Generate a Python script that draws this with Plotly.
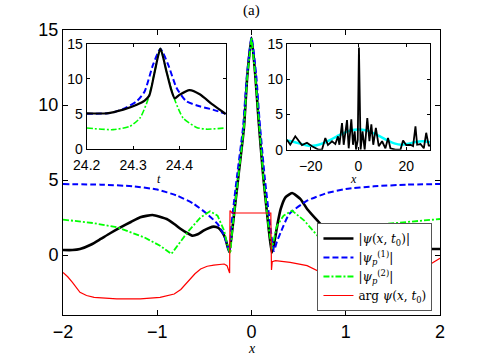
import plotly.graph_objects as go

# ---------------- main panel data ----------------
black_x = [-2.0, -1.9, -1.82, -1.7, -1.6, -1.5, -1.39, -1.28, -1.18, -1.05, -0.9, -0.82, -0.75, -0.68, -0.63, -0.57, -0.51, -0.45,
           -0.4, -0.35, -0.31, -0.28, -0.26, -0.235, -0.2, -0.14, -0.08, -0.045, 0.0, 0.04, 0.075, 0.125, 0.18, 0.215,
           0.235, 0.255, 0.28, 0.31, 0.36, 0.43, 0.52, 0.59, 0.7, 0.8, 0.91, 1.1, 1.3, 1.5, 1.7, 1.85, 2.0]
black_y = [0.33, 0.33, 0.4, 0.7, 1.07, 1.45, 1.84, 2.2, 2.51, 2.67, 2.4, 2.07, 1.73, 1.45, 1.29, 1.38, 1.62, 1.8,
           1.89, 1.8, 1.51, 1.15, 0.7, 0.2, 1.9, 5.2, 8.5, 11.9, 14.5, 12.0, 9.0, 5.2, 1.9, 0.15,
           0.6, 1.29, 2.2, 3.07, 3.84, 4.13, 3.73, 3.07, 2.29, 1.62, 1.18, 0.8, 0.6, 0.5, 0.45, 0.4, 0.4]

blue_x = [-2.0, -1.6, -1.25, -1.0, -0.79, -0.61, -0.47, -0.36, -0.29, -0.25, -0.232, -0.215, -0.155, -0.09, -0.05, 0.0,
          0.05, 0.085, 0.14, 0.2, 0.237, 0.27, 0.31, 0.4, 0.59, 0.8, 1.0, 1.3, 1.65, 2.0]
blue_y = [4.73, 4.69, 4.58, 4.36, 3.96, 3.4, 2.73, 2.07, 1.29, 0.5, 0.2, 1.87, 5.2, 8.5, 11.9, 14.5,
          12.0, 9.0, 5.2, 1.9, 0.27, 0.9, 1.51, 2.73, 3.62, 4.13, 4.4, 4.58, 4.69, 4.73]

green_x = [-2.0, -1.68, -1.42, -1.14, -0.97, -0.85, -0.68, -0.54, -0.44, -0.36, -0.29, -0.25, -0.225, -0.2, -0.14,
           -0.08, -0.045, 0.0, 0.04, 0.075, 0.125, 0.18, 0.215, 0.27, 0.34, 0.43, 0.56, 0.7, 0.8, 0.87, 0.95, 1.02,
           1.3, 1.65, 2.0]
green_y = [2.36, 2.13, 1.84, 1.18, 0.62, 0.07, 1.51, 2.51, 2.91, 2.62, 1.62, 0.51, 0.1, 1.9, 5.2,
           8.5, 11.9, 14.5, 12.0, 9.0, 5.2, 1.9, 0.4, 1.95, 2.62, 2.96, 2.29, 1.29, 0.4, 0.07, 1.2, 1.75,
           2.0, 2.2, 2.4]

red_x = [-2.0, -1.95, -1.9, -1.82, -1.75, -1.67, -1.43, -1.18, -0.97, -0.82, -0.75, -0.68, -0.6, -0.54, -0.47, -0.4, -0.29,
         -0.26, -0.24, -0.232, -0.228, -0.205, 0.0, 0.195, 0.205, 0.212, 0.22, 0.255, 0.41, 0.59, 0.77, 0.91,
         1.1, 1.3, 1.5, 1.7, 1.9, 2.0]
red_y = [-1.16, -1.45, -1.82, -2.49, -2.7, -2.82, -2.93, -2.93, -2.82, -2.6, -2.3, -1.82, -1.25, -0.93, -0.75, -0.67, -0.6,
         -0.71, -1.16, -1.2, 2.96, 2.8, 2.8, 2.8, 2.8, -1.0, -0.45, -0.38, -0.49, -0.71, -1.27, -1.82,
         -2.4, -2.6, -2.3, -1.5, -0.6, -0.22]

# ---------------- inset 1 (time) ----------------
in1_black_t = [24.2, 24.243, 24.279, 24.308, 24.325, 24.335, 24.347, 24.359, 24.372, 24.383, 24.390, 24.40, 24.422,
               24.444, 24.472, 24.5]
in1_black_y = [5.07, 5.07, 5.6, 6.3, 6.9, 7.6, 11.1, 14.33, 11.1, 8.3, 7.2, 7.7, 8.4, 7.8, 6.3, 4.97]
in1_blue_t = [24.2, 24.25, 24.279, 24.308, 24.325, 24.343, 24.359, 24.376, 24.394, 24.415, 24.444, 24.472, 24.5]
in1_blue_y = [5.0, 5.1, 5.7, 6.8, 8.2, 12.0, 14.3, 12.0, 8.7, 6.8, 6.07, 5.6, 5.0]
in1_green_t = [24.2, 24.257, 24.293, 24.315, 24.332, 24.347, 24.359, 24.372, 24.390, 24.408, 24.437, 24.458, 24.5]
in1_green_y = [2.97, 2.73, 3.2, 4.4, 7.0, 11.1, 14.3, 11.1, 7.0, 4.4, 3.05, 2.8, 2.97]

# ---------------- inset 2 (space, wide) ----------------
in2_black_x = [-30.0, -28.6, -26.5, -25.1, -23.7, -21.6, -19.5, -16.7, -15.3, -13.9, -12.8, -11.1, -9.7, -8.6, -8.0,
               -6.9, -6.2, -4.8, -4.1, -3.0, -2.3, -1.6, -1.0, -0.3, 0.2, 0.9, 1.7, 2.6, 3.7, 4.6, 5.4, 6.2,
               7.3, 8.5, 9.9, 11.3, 12.4, 13.4, 15.5, 17.6, 18.7, 20.0, 21.8, 22.9, 23.9, 24.6, 26.0, 27.4,
               28.4, 29.5, 30.0]
in2_black_y = [1.41, 0.71, 1.9, 1.2, 0.66, 0.99, 0.5, 0.0, 0.0, 1.65, 0.66, 1.2, 0.8, 1.9, 0.7,
               3.78, 0.7, 4.2, 0.2, 4.3, 0.7, 2.6, 0.0, 1.4, 14.5, 0.0, 2.6, 0.0, 4.5, 1.2, 3.6, 0.7,
               3.1, 0.5, 1.2, 0.2, 1.65, 0.2, 0.0, 0.0, 1.3, 0.66, 0.7, 0.5, 3.3, 0.7, 0.8, 0.2,
               2.4, 0.5, 0.7]
in2_cyan_x = [-30, -27, -24, -21, -18, -15, -12, -9, -6, -3, 0, 3, 6, 9, 12, 15, 18, 21, 24, 27, 30]
in2_cyan_y = [1.3, 1.1, 0.8, 0.55, 0.6, 0.9, 1.35, 1.9, 2.4, 2.75, 2.85, 2.75, 2.4, 1.9, 1.35, 0.9, 0.7,
              0.85, 1.1, 1.2, 1.05]

main_xticks = [-2, -1, 0, 1, 2]
main_xtext = ["\u22122", "\u22121", "0", "1", "2"]
main_yticks = [0, 5, 10, 15]
in1_xticks = [24.2, 24.3, 24.4]
in2_xticks = [-20, 0, 20]
in2_xtext = ["\u221220", "0", "20"]

SANS = "Liberation Sans, Arial, sans-serif"
SERIF = "Liberation Serif, DejaVu Serif, serif"
LEGSERIF = "DejaVu Serif, serif"

fig = go.Figure()

fig.add_trace(go.Scatter(x=black_x, y=black_y, mode="lines", name="|<i>ψ</i>(<i>x</i>, <i>t</i><sub>0</sub>)|",
                         line=dict(color="black", width=2.6, shape="spline", smoothing=0.5)))
fig.add_trace(go.Scatter(x=blue_x, y=blue_y, mode="lines", name="|<i>ψ</i><sub><i>p</i></sub><sup>(1)</sup>|",
                         line=dict(color="#0000ff", width=2, dash="6px,3px", shape="spline", smoothing=0.5)))
fig.add_trace(go.Scatter(x=green_x, y=green_y, mode="lines", name="|<i>ψ</i><sub><i>p</i></sub><sup>(2)</sup>|",
                         line=dict(color="#00ff00", width=1.8, dash="6px,2px,2px,2px")))
fig.add_trace(go.Scatter(x=red_x, y=red_y, mode="lines", name="arg <i>ψ</i>(<i>x</i>, <i>t</i><sub>0</sub>)",
                         line=dict(color="#ff0000", width=1.2)))

# inset 1
fig.add_trace(go.Scatter(x=in1_blue_t, y=in1_blue_y, mode="lines", xaxis="x2", yaxis="y2", showlegend=False,
                         line=dict(color="#0000ff", width=2, dash="6px,3px", shape="spline", smoothing=0.6)))
fig.add_trace(go.Scatter(x=in1_green_t, y=in1_green_y, mode="lines", xaxis="x2", yaxis="y2", showlegend=False,
                         line=dict(color="#00ff00", width=1.6, dash="6px,2px,2px,2px", shape="spline", smoothing=0.6)))
fig.add_trace(go.Scatter(x=in1_black_t, y=in1_black_y, mode="lines", xaxis="x2", yaxis="y2", showlegend=False,
                         line=dict(color="black", width=2.2, shape="spline", smoothing=0.6)))

# inset 2
fig.add_trace(go.Scatter(x=in2_cyan_x, y=in2_cyan_y, mode="lines", xaxis="x3", yaxis="y3", showlegend=False,
                         line=dict(color="#00ffff", width=2.5, shape="spline", smoothing=1.0)))
fig.add_trace(go.Scatter(x=in2_black_x, y=in2_black_y, mode="lines", xaxis="x3", yaxis="y3", showlegend=False,
                         line=dict(color="black", width=1.8)))

axis_common = dict(showline=True, linecolor="black", linewidth=1, mirror="ticks", ticks="inside",
                   showgrid=False, zeroline=False, tickcolor="black")

fig.update_layout(
    width=485, height=355,
    margin=dict(l=63, r=45, t=30, b=40),
    paper_bgcolor="white", plot_bgcolor="white",
    showlegend=True,
    xaxis=dict(domain=[0, 1], range=[-2, 2], tickvals=main_xticks, ticktext=main_xtext, ticklen=5,
               tickfont=dict(family=SANS, size=18, color="black"), **axis_common),
    yaxis=dict(domain=[0, 1], range=[-4, 15], tickvals=main_yticks, ticklen=5,
               tickfont=dict(family=SANS, size=18, color="black"), **axis_common),
    xaxis2=dict(domain=[0.0629, 0.4316], anchor="y2", range=[24.2, 24.5], tickvals=in1_xticks, ticklen=3,
                ticklabelstandoff=3, tickfont=dict(family=SANS, size=14, color="black"), **axis_common),
    yaxis2=dict(domain=[0.5835, 0.951], anchor="x2", range=[0, 15], tickvals=main_yticks, ticklen=3,
                tickfont=dict(family=SANS, size=14, color="black"), **axis_common),
    xaxis3=dict(domain=[0.594, 0.9735], anchor="y3", range=[-30, 30], tickvals=in2_xticks, ticktext=in2_xtext,
                ticklen=3, ticklabelstandoff=3, tickfont=dict(family=SANS, size=14, color="black"), **axis_common),
    yaxis3=dict(domain=[0.58, 0.951], anchor="x3", range=[0, 15], tickvals=main_yticks, ticklen=3,
                tickfont=dict(family=SANS, size=14, color="black"), **axis_common),
    legend=dict(x=0.98, y=0.014, xanchor="right", yanchor="bottom", bgcolor="white",
                bordercolor="#555555", borderwidth=1, tracegroupgap=0, itemwidth=30,
                font=dict(family=LEGSERIF, size=12, color="black")),
    annotations=[
        dict(text="(a)", x=0.5, y=1.07, xref="paper", yref="paper", showarrow=False, yanchor="middle",
             font=dict(family=SERIF, size=15, color="black")),
        dict(text="<i>x</i>", x=0.5, y=-0.116, xref="paper", yref="paper", showarrow=False, yanchor="middle",
             font=dict(family=SERIF, size=14, color="black")),
        dict(text="<i>t</i>", x=0.244, y=0.478, xref="paper", yref="paper", showarrow=False, yanchor="middle",
             font=dict(family=SERIF, size=12, color="black")),
        dict(text="<i>x</i>", x=0.785, y=0.478, xref="paper", yref="paper", showarrow=False, yanchor="middle",
             font=dict(family=SERIF, size=12, color="black")),
    ],
)

fig.write_html("out.html", config={"displayModeBar": False},
               post_script="document.body.style.margin='0';document.body.style.padding='0';")
